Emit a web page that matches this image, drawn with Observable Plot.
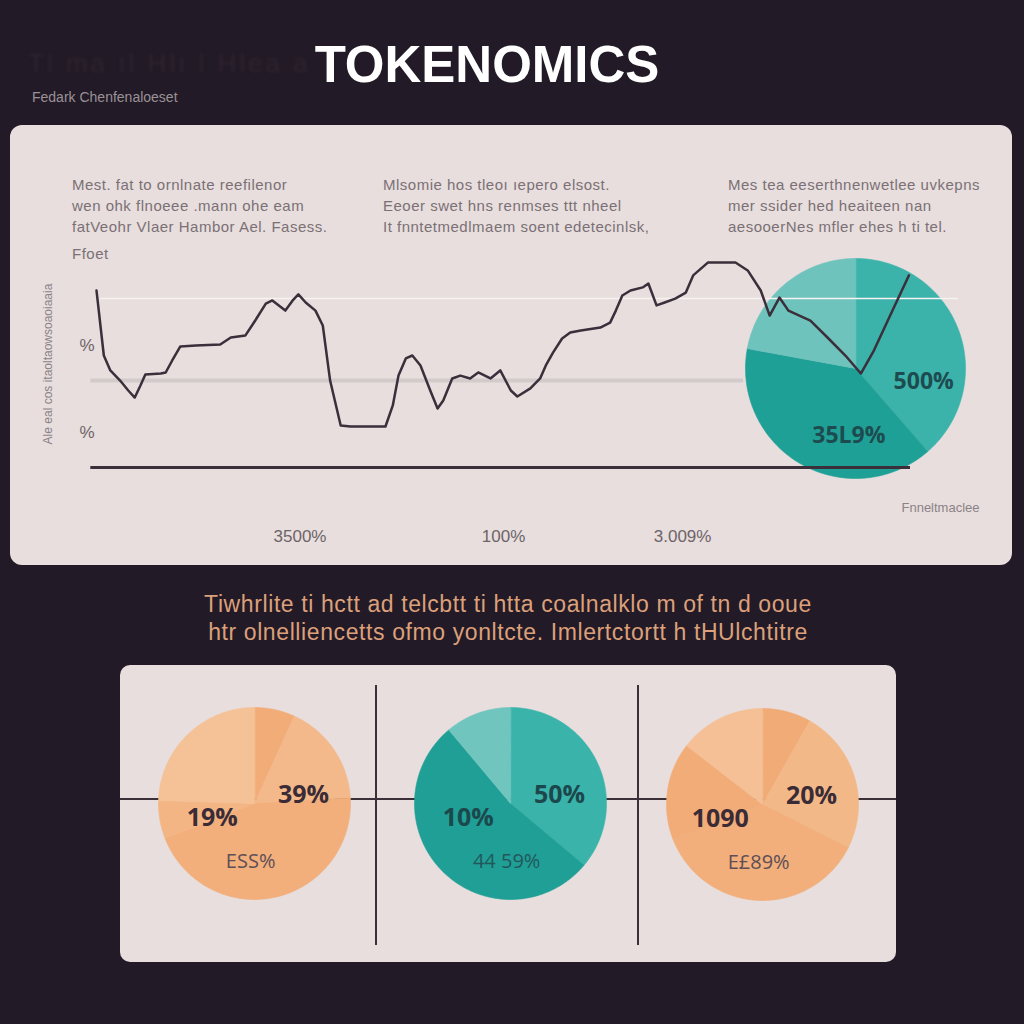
<!DOCTYPE html>
<html><head><meta charset="utf-8">
<script src="https://cdn.jsdelivr.net/npm/d3@7"></script>
<script src="https://cdn.jsdelivr.net/npm/@observablehq/plot@0.6"></script>
<style>
html,body{margin:0;padding:0;background:#221a26;}
#page{position:relative;width:1024px;height:1024px;overflow:hidden;background:#221a26;font-family:"Liberation Sans",Arial,sans-serif;}
.abs{position:absolute;}
.panel{position:absolute;background:#e7dedd;}
.blk{position:absolute;font-size:15px;line-height:21px;color:#7b7075;white-space:nowrap;letter-spacing:0.5px;}
.div{position:absolute;background:#3b2f38;}
</style></head><body><div id="page"></div>
<script>
// ---------- DATA ----------
const titleText = "TOKENOMICS";
const subNote = "Fedark Chenfenaloeset";
const textBlocks = [
  ["Mest. fat to ornlnate reefilenor", "wen ohk flnoeee .mann ohe eam", "fatVeohr Vlaer Hambor Ael. Fasess."],
  ["Mlsomie hos tleoı ıepero elsost.", "Eeoer swet hns renmses ttt nheel", "It fnntetmedlmaem soent edetecinlsk,"],
  ["Mes tea eeserthnenwetlee uvkepns", "mer ssider hed heaiteen nan", "aesooerNes mfler ehes h ti tel."]
];
const blockExtra = "Ffoet";
// line series (time index, value)
const lineT = [0,0.9,1.7,2.9,3.9,4.7,5.4,6.0,7.9,8.5,9.3,10.3,12.2,15.2,16.5,18.3,19.5,20.8,21.6,22.4,23.2,24.1,24.8,25.7,26.9,27.8,28.7,30.0,31.2,35.5,36.4,37.1,38.0,38.8,39.8,41.0,41.9,42.6,43.7,44.7,45.9,46.9,48.4,49.6,50.9,51.7,53.3,54.5,55.2,56.1,57.2,58.2,59.5,61.9,63.1,63.8,64.6,65.6,67.1,67.8,68.8,69.8,71.1,72.4,73.3,75.1,78.5,80.0,81.6,82.7,83.9,85.0,87.7,89.8,92.0,93.9,95.5,97.5,99.8];
const lineV = [85.5,54.1,46.9,42.0,37.2,33.8,39.6,44.9,45.4,45.9,51.7,58.5,58.9,59.4,62.8,63.8,71.0,79.2,80.7,78.3,75.8,80.7,83.6,79.7,75.8,68.6,42.0,20.3,19.8,19.8,30.0,44.4,52.7,54.1,49.3,37.2,28.5,32.4,43.0,44.4,43.0,45.9,43.0,46.9,37.2,34.3,38.2,43.0,49.3,55.6,62.3,65.2,66.2,67.6,70.0,75.8,83.1,85.5,87.0,88.9,78.3,79.7,81.6,84.5,92.8,99.0,99.0,95.2,85.5,73.4,82.1,75.8,71.0,62.8,54.1,45.4,56.5,73.4,92.8];
const gridHigh = 81.6, gridMid = 42.0;
const xTickValues = [25, 50, 72];
const xTickLabels = ["3500%", "100%", "3.009%"];
const yTickValues = [59, 17];
const yTickLabels = ["%", "%"];
const yAxisLabel = "Ale eal cos itaoltaowsoaoiaaia";
const xAxisLabel = "Fnneltmaclee";
// top pie
const topPieValues = [38.6, 39.3, 22.1];
const topPieColors = ["#3bb3aa", "#1fa096", "#6fc3bd"];
const topPieLabels = ["500%", "35L9%"];
// orange caption
const captionLines = ["Tiwhrlite ti hctt ad telcbtt ti htta coalnalklo m of tn d ooue", "htr olnelliencetts ofmo yonltcte. Imlertctortt h tHUlchtitre"];
// bottom pies
const pie1Values = [6.8, 17.3, 45.0, 6.4, 24.5];
const pie1Colors = ["#f1ac77", "#f4b98b", "#f2ae7b", "#f3b584", "#f5c196"];
const pie1Labels = ["39%", "19%", "ESS%"];
const pie2Values = [36.1, 52.8, 11.1];
const pie2Colors = ["#3ab3aa", "#1f9f95", "#71c5bf"];
const pie2Labels = ["50%", "10%", "44 59%"];
const pie3Values = [8.2, 24.2, 36.7, 16.4, 14.5];
const pie3Colors = ["#f1ab76", "#f3b888", "#f2ae7b", "#f1ac78", "#f5c095"];
const pie3Labels = ["20%", "1090", "E£89%"];

// ---------- LAYOUT ----------
const page = document.getElementById("page");
function el(tag, cls, css, text) {
  const e = document.createElement(tag);
  if (cls) e.className = cls;
  Object.assign(e.style, css);
  if (text != null) e.textContent = text;
  page.appendChild(e);
  return e;
}
function place(svg, left, top) {
  svg.style.position = "absolute";
  svg.style.left = left + "px";
  svg.style.top = top + "px";
  svg.style.background = "transparent";
  svg.style.maxWidth = "none";
  page.appendChild(svg);
}

// faint blurred header text
el("div", "abs", {left: "28px", top: "48px", fontSize: "26px", color: "#2f2430", filter: "blur(1.5px)", whiteSpace: "nowrap", letterSpacing: "3px"}, "Tl ma ıl  Hlı l  Hlea a");
el("div", "abs", {left: "0px", top: "35px", width: "974px", textAlign: "center", fontSize: "51px", lineHeight: "60px", fontWeight: "bold", color: "#ffffff"}, titleText);
el("div", "abs", {left: "32px", top: "89px", fontSize: "14px", color: "#9b9196", whiteSpace: "nowrap"}, subNote);

// top panel
el("div", "panel", {left: "10px", top: "125px", width: "1002px", height: "440px", borderRadius: "12px"});
const blockLefts = [72, 383, 728];
textBlocks.forEach((lines, i) => {
  const b = el("div", "blk", {left: blockLefts[i] + "px", top: "174px"});
  b.innerHTML = lines.join("<br>");
});
el("div", "blk", {left: "72px", top: "243px"}, blockExtra);

// pie builder
function pieChart(values, colors, size, r, labels, layout, boldFont, normalFont) {
  const arcs = d3.pie().sort(null)(values);
  const pts = [];
  arcs.forEach((a, i) => {
    const n = Math.max(2, Math.ceil((a.endAngle - a.startAngle) / 0.02));
    pts.push({k: i, x: 0, y: 0, c: colors[i]});
    for (let j = 0; j <= n; j++) {
      const t = a.startAngle + (a.endAngle - a.startAngle) * j / n;
      pts.push({k: i, x: Math.sin(t), y: Math.cos(t), c: colors[i]});
    }
  });
  const lab = labels.map((t, i) => ({t, x: layout[i][0], y: layout[i][1], bold: i < layout.length - (normalFont ? 1 : 0)}));
  const marks = [
    Plot.line(pts, {x: "x", y: "y", z: "k", fill: "c", stroke: "c", strokeWidth: 0.6, curve: "linear-closed"}),
    Plot.text(lab.filter(d => d.bold), {x: "x", y: "y", text: "t", ...boldFont})
  ];
  if (normalFont) marks.push(Plot.text(lab.filter(d => !d.bold), {x: "x", y: "y", text: "t", ...normalFont}));
  const m = (size - 2 * r) / 2;
  return Plot.plot({
    width: size, height: size, margin: m,
    x: {domain: [-1, 1], axis: null}, y: {domain: [-1, 1], axis: null},
    color: {type: "identity"},
    style: {background: "transparent", overflow: "visible", fontFamily: "Open Sans, Liberation Sans, sans-serif"},
    marks
  });
}

// top pie (behind the line)
const topPie = pieChart(topPieValues, topPieColors, 240, 110, topPieLabels,
  [[0.62, -0.12], [-0.06, -0.61]],
  {fontWeight: "bold", fontSize: 23, fill: "#1d4b50", letterSpacing: "-1px"}, null);
place(topPie, 735, 248);

// line chart
const lineData = lineT.map((t, i) => ({t, v: lineV[i]}));
const xLabelMap = new Map(xTickValues.map((v, i) => [v, xTickLabels[i]]));
const yLabelMap = new Map(yTickValues.map((v, i) => [v, yTickLabels[i]]));
const lineChart = Plot.plot({
  width: 1002, height: 440,
  marginLeft: 86, marginRight: 102, marginTop: 135, marginBottom: 98,
  style: {background: "transparent", fontFamily: "Liberation Sans, Arial, sans-serif", fontSize: "17px", color: "#6e6468", overflow: "visible"},
  x: {domain: [0, 100], ticks: xTickValues, tickFormat: d => xLabelMap.get(d), tickSize: 0, tickPadding: 62, label: null},
  y: {domain: [0, 100], ticks: yTickValues, tickFormat: d => yLabelMap.get(d), tickSize: 0, tickPadding: 2, label: null},
  marks: [
    Plot.ruleY([gridMid], {x1: -0.7, x2: 79.5, stroke: "#d3cacc", strokeWidth: 4}),
    Plot.ruleY([gridHigh], {x1: 0.5, x2: 105.9, stroke: "#f7f3f3", strokeWidth: 1.5}),
    Plot.ruleY([0], {x1: -0.7, x2: 100, stroke: "#3b3039", strokeWidth: 3}),
    Plot.line(lineData, {x: "t", y: "v", stroke: "#3a2f3a", strokeWidth: 2.5, curve: "linear"}),
    Plot.text([yAxisLabel], {text: d => d, frameAnchor: "left", rotate: -90, dx: -48, textAnchor: "middle", fontSize: 12, letterSpacing: "0.6px", fill: "#8c8287"}),
    Plot.text([xAxisLabel], {text: d => d, frameAnchor: "bottom-right", dx: 30, dy: 40, textAnchor: "middle", lineAnchor: "middle", fontSize: 13, fill: "#8c8287"})
  ]
});
place(lineChart, 10, 125);

// caption
el("div", "abs", {left: "0px", top: "590px", width: "1016px", textAlign: "center", fontSize: "23px", lineHeight: "28px", letterSpacing: "0.6px", color: "#dca07a", whiteSpace: "nowrap"}, "").innerHTML = captionLines.join("<br>");

// bottom panel
el("div", "panel", {left: "120px", top: "665px", width: "776px", height: "297px", borderRadius: "10px"});
el("div", "div", {left: "120px", top: "798px", width: "776px", height: "2px"});
el("div", "div", {left: "375px", top: "685px", width: "2px", height: "260px"});
el("div", "div", {left: "637px", top: "685px", width: "2px", height: "260px"});

const labLayout = [[0.51, 0.09], [-0.44, -0.15], [-0.04, -0.61]];
const orangeBold = {fontWeight: "bold", fontSize: 25, fill: "#3a2b36"};
const orangeNorm = {fontSize: 20, fill: "#5e4e56", letterSpacing: "2px"};
const tealBold = {fontWeight: "bold", fontSize: 25, fill: "#1c474c"};
const tealNorm = {fontSize: 20, fill: "#22585c", letterSpacing: "2px"};
place(pieChart(pie1Values, pie1Colors, 212, 96, pie1Labels, labLayout, orangeBold, orangeNorm), 148, 697);
place(pieChart(pie2Values, pie2Colors, 212, 96, pie2Labels, labLayout, tealBold, tealNorm), 404, 697);
place(pieChart(pie3Values, pie3Colors, 212, 96, pie3Labels, labLayout, orangeBold, orangeNorm), 656, 698);
</script>
</body></html>
